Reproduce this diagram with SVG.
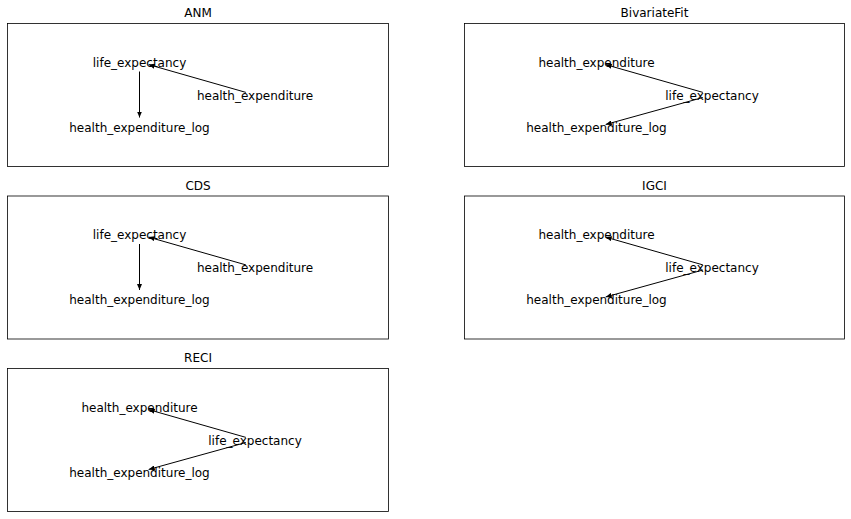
<svg xmlns="http://www.w3.org/2000/svg" width="851" height="519" viewBox="0 0 851 519">
<style>
text{font-family:"DejaVu Sans",sans-serif;font-size:12px;fill:#000;text-anchor:middle}
.frame{fill:none;stroke:#000;stroke-width:0.8}
.edge{stroke:#000;stroke-width:1;fill:none;marker-end:url(#arr)}
</style>
<defs>
<marker id="arr" viewBox="0 0 6 5" refX="6" refY="2.5" markerWidth="6" markerHeight="5" markerUnits="userSpaceOnUse" orient="auto">
<path d="M0,0 L6,2.5 L0,5 Z" fill="#000"/>
</marker>
</defs>
<rect width="851" height="519" fill="#fff"/>

<g id="panel-ANM">
<text x="198" y="17">ANM</text>
<rect class="frame" x="7.5" y="23.5" width="381" height="143"/>
<g id="connectors-ANM">
<line class="edge" x1="245.86" y1="92.39" x2="148.63" y2="64.61"/>
<line class="edge" x1="139.5" y1="71.5" x2="139.5" y2="117.5"/>
</g>
<g id="ANM-life_expectancy"><text x="139.5" y="66.5">life_expectancy</text></g>
<g id="ANM-health_expenditure"><text x="255" y="99.5">health_expenditure</text></g>
<g id="ANM-health_expenditure_log"><text x="139.5" y="131.5">health_expenditure_log</text></g>
</g>

<g id="panel-CDS" transform="translate(0,172.5)">
<text x="198" y="17">CDS</text>
<rect class="frame" x="7.5" y="23.5" width="381" height="143"/>
<g id="connectors-CDS">
<line class="edge" x1="245.86" y1="92.39" x2="148.63" y2="64.61"/>
<line class="edge" x1="139.5" y1="71.5" x2="139.5" y2="117.5"/>
</g>
<g id="CDS-life_expectancy"><text x="139.5" y="66.5">life_expectancy</text></g>
<g id="CDS-health_expenditure"><text x="255" y="99.5">health_expenditure</text></g>
<g id="CDS-health_expenditure_log"><text x="139.5" y="131.5">health_expenditure_log</text></g>
</g>

<g id="panel-RECI" transform="translate(0,345)">
<text x="198" y="17">RECI</text>
<rect class="frame" x="7.5" y="23.5" width="381" height="143"/>
<g id="connectors-RECI">
<line class="edge" x1="245.87" y1="92.39" x2="148.63" y2="64.61"/>
<line class="edge" x1="245.84" y1="97.54" x2="148.66" y2="124.46"/>
</g>
<g id="RECI-health_expenditure"><text x="139.5" y="66.5">health_expenditure</text></g>
<g id="RECI-life_expectancy"><text x="255" y="99.5">life_expectancy</text></g>
<g id="RECI-health_expenditure_log"><text x="139.5" y="131.5">health_expenditure_log</text></g>
</g>

<g id="panel-BivariateFit" transform="translate(457,0)">
<text x="197.5" y="17">BivariateFit</text>
<rect class="frame" x="7.5" y="23.5" width="380" height="143"/>
<g id="connectors-BivariateFit">
<line class="edge" x1="245.87" y1="92.39" x2="148.63" y2="64.61"/>
<line class="edge" x1="245.84" y1="97.54" x2="148.66" y2="124.46"/>
</g>
<g id="BivariateFit-health_expenditure"><text x="139.5" y="66.5">health_expenditure</text></g>
<g id="BivariateFit-life_expectancy"><text x="255" y="99.5">life_expectancy</text></g>
<g id="BivariateFit-health_expenditure_log"><text x="139.5" y="131.5">health_expenditure_log</text></g>
</g>

<g id="panel-IGCI" transform="translate(457,172.5)">
<text x="197.5" y="17">IGCI</text>
<rect class="frame" x="7.5" y="23.5" width="380" height="143"/>
<g id="connectors-IGCI">
<line class="edge" x1="245.87" y1="92.39" x2="148.63" y2="64.61"/>
<line class="edge" x1="245.84" y1="97.54" x2="148.66" y2="124.46"/>
</g>
<g id="IGCI-health_expenditure"><text x="139.5" y="66.5">health_expenditure</text></g>
<g id="IGCI-life_expectancy"><text x="255" y="99.5">life_expectancy</text></g>
<g id="IGCI-health_expenditure_log"><text x="139.5" y="131.5">health_expenditure_log</text></g>
</g>
</svg>
